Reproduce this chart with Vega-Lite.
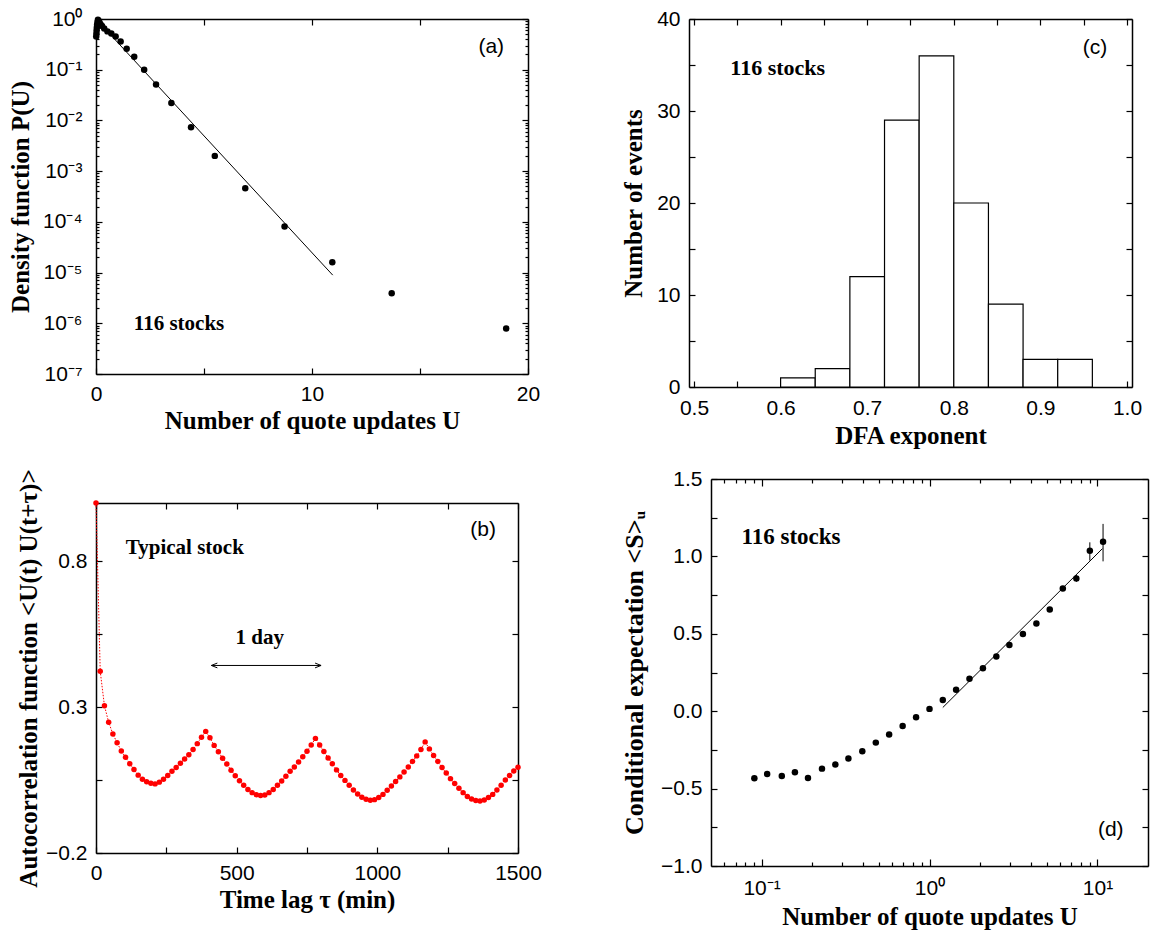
{
"$schema": "https://vega.github.io/schema/vega-lite/v6.json",
"background": "#ffffff",
"padding": {"left": 8, "top": 8, "right": 2, "bottom": 2},
"config": {
 "view": {"stroke": null},
 "axis": {"grid": false, "domainColor": "#000", "domainWidth": 1.5, "tickColor": "#000", "tickWidth": 1.2, "tickSize": -6,
  "labelFont": "Liberation Sans", "labelFontSize": 21, "labelColor": "#000",
  "titleFont": "Liberation Serif", "titleFontSize": 25, "titleFontWeight": "bold", "titleColor": "#000",
  "labelFlush": false, "labelOverlap": false, "labelBound": false}
},
"datasets": {
 "pa": [
  {"U":0.01,"P":0.45},{"U":0.02,"P":0.52},{"U":0.03,"P":0.6},{"U":0.04,"P":0.68},{"U":0.05,"P":0.77},{"U":0.07,"P":0.87},{"U":0.09,"P":0.97},{"U":0.12,"P":0.92},{"U":0.16,"P":0.85},{"U":0.21,"P":0.79},{"U":0.28,"P":0.73},{"U":0.38,"P":0.65},{"U":0.53,"P":0.57},{"U":0.71,"P":0.52},{"U":0.91,"P":0.45},{"U":1.14,"P":0.36},{"U":1.42,"P":0.26},{"U":1.77,"P":0.18},{"U":2.23,"P":0.1},{"U":2.78,"P":0.051},{"U":3.49,"P":0.022},{"U":4.4,"P":0.0073},{"U":5.5,"P":0.002},{"U":6.91,"P":0.00046},{"U":8.73,"P":0.000081},{"U":10.94,"P":0.000016},{"U":13.69,"P":0.0000039},{"U":18.99,"P":0.00000079}
 ],
 "paFit": [{"U":0,"P":1.0},{"U":10.96,"P":0.0000089}],
 "pb": [
  {"t":0,"v":1.0},{"t":15,"v":0.423},{"t":30,"v":0.305},{"t":45,"v":0.248},{"t":60,"v":0.208},{"t":75,"v":0.178},{"t":90,"v":0.15},{"t":105,"v":0.128},{"t":120,"v":0.106},{"t":135,"v":0.086},{"t":150,"v":0.067},{"t":165,"v":0.053},{"t":180,"v":0.044},{"t":195,"v":0.039},{"t":210,"v":0.037},{"t":225,"v":0.043},{"t":240,"v":0.053},{"t":255,"v":0.066},{"t":270,"v":0.08},{"t":285,"v":0.093},{"t":300,"v":0.108},{"t":315,"v":0.122},{"t":330,"v":0.137},{"t":345,"v":0.155},{"t":360,"v":0.175},{"t":375,"v":0.197},{"t":390,"v":0.217},
  {"t":405,"v":0.195},{"t":420,"v":0.169},{"t":435,"v":0.147},{"t":450,"v":0.125},{"t":465,"v":0.105},{"t":480,"v":0.084},{"t":495,"v":0.065},{"t":510,"v":0.048},{"t":525,"v":0.032},{"t":540,"v":0.018},{"t":555,"v":0.007},{"t":570,"v":0.0},{"t":585,"v":-0.003},{"t":600,"v":-0.001},{"t":615,"v":0.007},{"t":630,"v":0.018},{"t":645,"v":0.032},{"t":660,"v":0.047},{"t":675,"v":0.063},{"t":690,"v":0.08},{"t":705,"v":0.095},{"t":720,"v":0.112},{"t":735,"v":0.13},{"t":750,"v":0.149},{"t":765,"v":0.17},{"t":780,"v":0.193},
  {"t":795,"v":0.17},{"t":810,"v":0.148},{"t":825,"v":0.126},{"t":840,"v":0.106},{"t":855,"v":0.085},{"t":870,"v":0.066},{"t":885,"v":0.049},{"t":900,"v":0.032},{"t":915,"v":0.016},{"t":930,"v":0.002},{"t":945,"v":-0.009},{"t":960,"v":-0.016},{"t":975,"v":-0.019},{"t":990,"v":-0.017},{"t":1005,"v":-0.01},{"t":1020,"v":0.001},{"t":1035,"v":0.015},{"t":1050,"v":0.03},{"t":1065,"v":0.045},{"t":1080,"v":0.061},{"t":1095,"v":0.078},{"t":1110,"v":0.095},{"t":1125,"v":0.114},{"t":1140,"v":0.133},{"t":1155,"v":0.155},{"t":1170,"v":0.181},
  {"t":1185,"v":0.157},{"t":1200,"v":0.134},{"t":1215,"v":0.114},{"t":1230,"v":0.093},{"t":1245,"v":0.074},{"t":1260,"v":0.055},{"t":1275,"v":0.038},{"t":1290,"v":0.022},{"t":1305,"v":0.007},{"t":1320,"v":-0.006},{"t":1335,"v":-0.015},{"t":1350,"v":-0.02},{"t":1365,"v":-0.022},{"t":1380,"v":-0.018},{"t":1395,"v":-0.01},{"t":1410,"v":0.001},{"t":1425,"v":0.016},{"t":1440,"v":0.032},{"t":1455,"v":0.05},{"t":1470,"v":0.066},{"t":1485,"v":0.081},{"t":1500,"v":0.094}
 ],
 "pbArrow": [{"t1":410,"t2":800,"v":0.443}],
 "pc": [
  {"lo":0.6,"hi":0.64,"n":1},{"lo":0.64,"hi":0.68,"n":2},{"lo":0.68,"hi":0.72,"n":12},{"lo":0.72,"hi":0.76,"n":29},{"lo":0.76,"hi":0.8,"n":36},{"lo":0.8,"hi":0.84,"n":20},{"lo":0.84,"hi":0.88,"n":9},{"lo":0.88,"hi":0.92,"n":3},{"lo":0.92,"hi":0.96,"n":3}
 ],
 "pd": [
  {"U":0.0906,"S":-0.433},{"U":0.108,"S":-0.405},{"U":0.132,"S":-0.418},{"U":0.158,"S":-0.394},{"U":0.189,"S":-0.431},{"U":0.229,"S":-0.371},{"U":0.275,"S":-0.345},{"U":0.329,"S":-0.306},{"U":0.398,"S":-0.259},{"U":0.479,"S":-0.203},{"U":0.575,"S":-0.151},{"U":0.692,"S":-0.095},{"U":0.832,"S":-0.039},{"U":1.0,"S":0.015},{"U":1.2,"S":0.073},{"U":1.44,"S":0.138},{"U":1.73,"S":0.209},{"U":2.08,"S":0.278},{"U":2.5,"S":0.353},{"U":2.99,"S":0.427},{"U":3.6,"S":0.498},{"U":4.33,"S":0.567},{"U":5.2,"S":0.657},{"U":6.22,"S":0.793},{"U":7.49,"S":0.858},{"U":9.01,"S":1.037},{"U":10.8,"S":1.095}
 ],
 "pdErr": [{"U":7.49,"lo":0.835,"hi":0.88},{"U":9.01,"lo":0.973,"hi":1.091},{"U":10.8,"lo":0.968,"hi":1.21}],
 "pdFit": [{"U":1.2,"S":0.024},{"U":10.7,"S":1.05}]
},
"concat": [
 {
  "width": 432, "height": 355,
  "layer": [
   {"data": {"name": "pa"},
    "mark": {"type": "circle", "color": "#000", "size": 42, "opacity": 1},
    "encoding": {
     "x": {"field": "U", "type": "quantitative", "scale": {"domain": [0, 20], "nice": false, "zero": false},
      "axis": {"orient": "bottom", "values": [0,5,10,15,20], "labelExpr": "datum.value % 10 == 0 ? datum.label : ''", "title": "Number of quote updates U", "labelPadding": 15, "titlePadding": 4}},
     "y": {"field": "P", "type": "quantitative", "scale": {"type": "log", "domain": [1e-7, 1], "nice": false},
      "axis": {"orient": "left", "values": [1e-7,1e-6,1e-5,1e-4,1e-3,1e-2,1e-1,1], "labelExpr": "'10' + ['⁰','⁻¹','⁻²','⁻³','⁻⁴','⁻⁵','⁻⁶','⁻⁷'][round(-log(datum.value)/LN10)]", "title": "Density function P(U)", "labelPadding": 20, "titlePadding": 9}}
    }},
   {"data": {"name": "paFit"},
    "mark": {"type": "line", "color": "#000", "strokeWidth": 1},
    "encoding": {
     "x": {"field": "U", "type": "quantitative", "scale": {"domain": [0, 20], "nice": false, "zero": false},
      "axis": {"orient": "top", "values": [0,5,10,15,20], "labels": false, "title": null}},
     "y": {"field": "P", "type": "quantitative", "scale": {"type": "log", "domain": [1e-7, 1], "nice": false},
      "axis": {"orient": "right", "values": [1e-7,1e-6,1e-5,1e-4,1e-3,1e-2,1e-1,1], "labels": false, "title": null}}
    }},
   {"data": {"values": [{}]},
    "mark": {"type": "text", "text": "116 stocks", "font": "Liberation Serif", "fontWeight": "bold", "fontSize": 21, "align": "left", "baseline": "middle", "color": "#000"},
    "encoding": {
     "x": {"datum": 1.75, "type": "quantitative", "scale": {"domain": [0, 20], "nice": false, "zero": false}, "axis": null},
     "y": {"datum": 0.00000095, "type": "quantitative", "scale": {"type": "log", "domain": [1e-7, 1], "nice": false},
      "axis": {"orient": "left", "values": [2e-7,3e-7,4e-7,5e-7,6e-7,7e-7,8e-7,9e-7,2e-6,3e-6,4e-6,5e-6,6e-6,7e-6,8e-6,9e-6,2e-5,3e-5,4e-5,5e-5,6e-5,7e-5,8e-5,9e-5,2e-4,3e-4,4e-4,5e-4,6e-4,7e-4,8e-4,9e-4,2e-3,3e-3,4e-3,5e-3,6e-3,7e-3,8e-3,9e-3,2e-2,3e-2,4e-2,5e-2,6e-2,7e-2,8e-2,9e-2,0.2,0.3,0.4,0.5,0.6,0.7,0.8,0.9], "labels": false, "title": null, "tickSize": -3, "domain": false}}
    }},
   {"data": {"values": [{}]},
    "mark": {"type": "text", "text": "(a)", "font": "Liberation Sans", "fontSize": 21, "align": "center", "baseline": "middle", "color": "#000"},
    "encoding": {
     "x": {"datum": 18.3, "type": "quantitative", "scale": {"domain": [0, 20], "nice": false, "zero": false}, "axis": null},
     "y": {"datum": 0.28, "type": "quantitative", "scale": {"type": "log", "domain": [1e-7, 1], "nice": false},
      "axis": {"orient": "right", "values": [2e-7,3e-7,4e-7,5e-7,6e-7,7e-7,8e-7,9e-7,2e-6,3e-6,4e-6,5e-6,6e-6,7e-6,8e-6,9e-6,2e-5,3e-5,4e-5,5e-5,6e-5,7e-5,8e-5,9e-5,2e-4,3e-4,4e-4,5e-4,6e-4,7e-4,8e-4,9e-4,2e-3,3e-3,4e-3,5e-3,6e-3,7e-3,8e-3,9e-3,2e-2,3e-2,4e-2,5e-2,6e-2,7e-2,8e-2,9e-2,0.2,0.3,0.4,0.5,0.6,0.7,0.8,0.9], "labels": false, "title": null, "tickSize": -3, "domain": false}}
    }}
  ],
  "resolve": {"axis": {"x": "independent", "y": "independent"}}
 },
 {
  "width": 443, "height": 368,
  "layer": [
   {"data": {"name": "pc"},
    "mark": {"type": "bar", "orient": "vertical", "fill": "#ffffff", "stroke": "#000", "strokeWidth": 1.2},
    "encoding": {
     "x": {"field": "lo", "type": "quantitative", "scale": {"domain": [0.5, 1.0], "nice": false, "zero": false},
      "axis": {"orient": "bottom", "values": [0.5,0.55,0.6,0.65,0.7,0.75,0.8,0.85,0.9,0.95,1.0], "format": ".1f", "labelExpr": "abs(datum.value*10 - round(datum.value*10)) < 0.01 ? datum.label : ''", "title": "DFA exponent", "labelPadding": 16, "titlePadding": 5}},
     "x2": {"field": "hi"},
     "y": {"field": "n", "type": "quantitative", "scale": {"domain": [0, 40], "nice": false, "zero": false},
      "axis": {"orient": "left", "values": [0,5,10,15,20,25,30,35,40], "labelExpr": "datum.value % 10 == 0 ? datum.label : ''", "title": "Number of events", "labelPadding": 15, "titlePadding": 10}},
     "y2": {"datum": 0}
    }},
   {"data": {"values": [{}]},
    "mark": {"type": "text", "text": "116 stocks", "font": "Liberation Serif", "fontWeight": "bold", "fontSize": 22, "align": "left", "baseline": "middle", "color": "#000"},
    "encoding": {
     "x": {"datum": 0.542, "type": "quantitative", "scale": {"domain": [0.5, 1.0], "nice": false, "zero": false},
      "axis": {"orient": "top", "values": [0.5,0.55,0.6,0.65,0.7,0.75,0.8,0.85,0.9,0.95,1.0], "labels": false, "title": null}},
     "y": {"datum": 34.7, "type": "quantitative", "scale": {"domain": [0, 40], "nice": false, "zero": false},
      "axis": {"orient": "right", "values": [0,5,10,15,20,25,30,35,40], "labels": false, "title": null}}
    }},
   {"data": {"values": [{}]},
    "mark": {"type": "text", "text": "(c)", "font": "Liberation Sans", "fontSize": 21, "align": "center", "baseline": "middle", "color": "#000"},
    "encoding": {
     "x": {"datum": 0.963, "type": "quantitative", "scale": {"domain": [0.5, 1.0], "nice": false, "zero": false}, "axis": null},
     "y": {"datum": 36.9, "type": "quantitative", "scale": {"domain": [0, 40], "nice": false, "zero": false}, "axis": null}
    }}
  ],
  "resolve": {"axis": {"x": "independent", "y": "independent"}}
 },
 {
  "width": 422, "height": 350,
  "layer": [
   {"data": {"name": "pb"},
    "mark": {"type": "line", "color": "#ff0000", "strokeWidth": 1, "strokeDash": [1.5, 1.5]},
    "encoding": {
     "x": {"field": "t", "type": "quantitative", "scale": {"domain": [0, 1500], "nice": false, "zero": false},
      "axis": {"orient": "bottom", "values": [0,250,500,750,1000,1250,1500], "format": "d", "labelExpr": "datum.value % 500 == 0 ? datum.label : ''", "title": "Time lag τ  (min)", "labelPadding": 15, "titlePadding": 4}},
     "y": {"field": "v", "type": "quantitative", "scale": {"domain": [-0.2, 1.0], "nice": false, "zero": false},
      "axis": {"orient": "left", "values": [-0.2,0.05,0.3,0.55,0.8], "format": ".1f", "labelExpr": "abs(datum.value*10 - round(datum.value*10)) < 0.01 ? datum.label : ''", "title": "Autocorrelation function <U(t) U(t+τ)>", "labelPadding": 15, "titlePadding": 4}}
    }},
   {"data": {"name": "pb"},
    "mark": {"type": "circle", "color": "#ff0000", "size": 30, "opacity": 1},
    "encoding": {
     "x": {"field": "t", "type": "quantitative", "scale": {"domain": [0, 1500], "nice": false, "zero": false},
      "axis": {"orient": "top", "values": [0,250,500,750,1000,1250,1500], "labels": false, "title": null}},
     "y": {"field": "v", "type": "quantitative", "scale": {"domain": [-0.2, 1.0], "nice": false, "zero": false},
      "axis": {"orient": "right", "values": [-0.2,0.05,0.3,0.55,0.8], "labels": false, "title": null}}
    }},
   {"data": {"name": "pbArrow"},
    "mark": {"type": "rule", "color": "#000", "strokeWidth": 1},
    "encoding": {
     "x": {"field": "t1", "type": "quantitative", "scale": {"domain": [0, 1500], "nice": false, "zero": false}, "axis": null},
     "x2": {"field": "t2"},
     "y": {"field": "v", "type": "quantitative", "scale": {"domain": [-0.2, 1.0], "nice": false, "zero": false}, "axis": null}
    }},
   {"data": {"values": [{}]},
    "mark": {"type": "point", "shape": "M2,-0.8L0,0L2,0.8", "size": 36, "filled": false, "color": "#000", "strokeWidth": 1, "opacity": 1},
    "encoding": {
     "x": {"datum": 410, "type": "quantitative", "scale": {"domain": [0, 1500], "nice": false, "zero": false}, "axis": null},
     "y": {"datum": 0.443, "type": "quantitative", "scale": {"domain": [-0.2, 1.0], "nice": false, "zero": false}, "axis": null}
    }},
   {"data": {"values": [{}]},
    "mark": {"type": "point", "shape": "M-2,-0.8L0,0L-2,0.8", "size": 36, "filled": false, "color": "#000", "strokeWidth": 1, "opacity": 1},
    "encoding": {
     "x": {"datum": 800, "type": "quantitative", "scale": {"domain": [0, 1500], "nice": false, "zero": false}, "axis": null},
     "y": {"datum": 0.443, "type": "quantitative", "scale": {"domain": [-0.2, 1.0], "nice": false, "zero": false}, "axis": null}
    }},
   {"data": {"values": [{}]},
    "mark": {"type": "text", "text": "Typical stock", "font": "Liberation Serif", "fontWeight": "bold", "fontSize": 21, "align": "left", "baseline": "middle", "color": "#000"},
    "encoding": {
     "x": {"datum": 106, "type": "quantitative", "scale": {"domain": [0, 1500], "nice": false, "zero": false}, "axis": null},
     "y": {"datum": 0.847, "type": "quantitative", "scale": {"domain": [-0.2, 1.0], "nice": false, "zero": false}, "axis": null}
    }},
   {"data": {"values": [{}]},
    "mark": {"type": "text", "text": "1 day", "font": "Liberation Serif", "fontWeight": "bold", "fontSize": 21, "align": "center", "baseline": "middle", "color": "#000"},
    "encoding": {
     "x": {"datum": 582, "type": "quantitative", "scale": {"domain": [0, 1500], "nice": false, "zero": false}, "axis": null},
     "y": {"datum": 0.537, "type": "quantitative", "scale": {"domain": [-0.2, 1.0], "nice": false, "zero": false}, "axis": null}
    }},
   {"data": {"values": [{}]},
    "mark": {"type": "text", "text": "(b)", "font": "Liberation Sans", "fontSize": 21, "align": "center", "baseline": "middle", "color": "#000"},
    "encoding": {
     "x": {"datum": 1376, "type": "quantitative", "scale": {"domain": [0, 1500], "nice": false, "zero": false}, "axis": null},
     "y": {"datum": 0.908, "type": "quantitative", "scale": {"domain": [-0.2, 1.0], "nice": false, "zero": false}, "axis": null}
    }}
  ],
  "resolve": {"axis": {"x": "independent", "y": "independent"}}
 },
 {
  "width": 437, "height": 387,
  "layer": [
   {"data": {"name": "pd"},
    "mark": {"type": "circle", "color": "#000", "size": 42, "opacity": 1},
    "encoding": {
     "x": {"field": "U", "type": "quantitative", "scale": {"type": "log", "domain": [0.05, 20], "nice": false},
      "axis": {"orient": "bottom", "values": [0.1, 1, 10], "labelExpr": "['10⁻¹','10⁰','10¹'][round(log(datum.value)/LN10)+1]", "title": "Number of quote updates U", "tickSize": -7, "labelPadding": 18, "titlePadding": 6}},
     "y": {"field": "S", "type": "quantitative", "scale": {"domain": [-1.0, 1.5], "nice": false, "zero": false},
      "axis": {"orient": "left", "values": [-1,-0.75,-0.5,-0.25,0,0.25,0.5,0.75,1,1.25,1.5], "format": ".1f", "labelExpr": "abs(datum.value*2 - round(datum.value*2)) < 0.01 ? datum.label : ''", "title": "Conditional expectation <S>ᵤ", "titleFontSize": 26, "labelPadding": 15, "titlePadding": 13}}
    }},
   {"data": {"name": "pdFit"},
    "mark": {"type": "line", "color": "#000", "strokeWidth": 1},
    "encoding": {
     "x": {"field": "U", "type": "quantitative", "scale": {"type": "log", "domain": [0.05, 20], "nice": false},
      "axis": {"orient": "top", "values": [0.1, 1, 10], "labels": false, "title": null, "tickSize": -7}},
     "y": {"field": "S", "type": "quantitative", "scale": {"domain": [-1.0, 1.5], "nice": false, "zero": false},
      "axis": {"orient": "right", "values": [-1,-0.75,-0.5,-0.25,0,0.25,0.5,0.75,1,1.25,1.5], "labels": false, "title": null}}
    }},
   {"data": {"name": "pdErr"},
    "mark": {"type": "rule", "color": "#000", "strokeWidth": 1},
    "encoding": {
     "x": {"field": "U", "type": "quantitative", "scale": {"type": "log", "domain": [0.05, 20], "nice": false},
      "axis": {"orient": "bottom", "values": [0.06,0.07,0.08,0.09,0.2,0.3,0.4,0.5,0.6,0.7,0.8,0.9,2,3,4,5,6,7,8,9], "labels": false, "title": null, "tickSize": -4, "domain": false}},
     "y": {"field": "lo", "type": "quantitative", "scale": {"domain": [-1.0, 1.5], "nice": false, "zero": false}, "axis": null},
     "y2": {"field": "hi"}
    }},
   {"data": {"values": [{}]},
    "mark": {"type": "text", "text": "116 stocks", "font": "Liberation Serif", "fontWeight": "bold", "fontSize": 23, "align": "left", "baseline": "middle", "color": "#000"},
    "encoding": {
     "x": {"datum": 0.0759, "type": "quantitative", "scale": {"type": "log", "domain": [0.05, 20], "nice": false},
      "axis": {"orient": "top", "values": [0.06,0.07,0.08,0.09,0.2,0.3,0.4,0.5,0.6,0.7,0.8,0.9,2,3,4,5,6,7,8,9], "labels": false, "title": null, "tickSize": -4, "domain": false}},
     "y": {"datum": 1.123, "type": "quantitative", "scale": {"domain": [-1.0, 1.5], "nice": false, "zero": false}, "axis": null}
    }},
   {"data": {"values": [{}]},
    "mark": {"type": "text", "text": "(d)", "font": "Liberation Sans", "fontSize": 21, "align": "center", "baseline": "middle", "color": "#000"},
    "encoding": {
     "x": {"datum": 12.0, "type": "quantitative", "scale": {"type": "log", "domain": [0.05, 20], "nice": false}, "axis": null},
     "y": {"datum": -0.77, "type": "quantitative", "scale": {"domain": [-1.0, 1.5], "nice": false, "zero": false}, "axis": null}
    }}
  ],
  "resolve": {"axis": {"x": "independent", "y": "independent"}}
 }
],
"columns": 2,
"align": "none",
"bounds": "full",
"spacing": {"row": 20, "column": 79}
}
